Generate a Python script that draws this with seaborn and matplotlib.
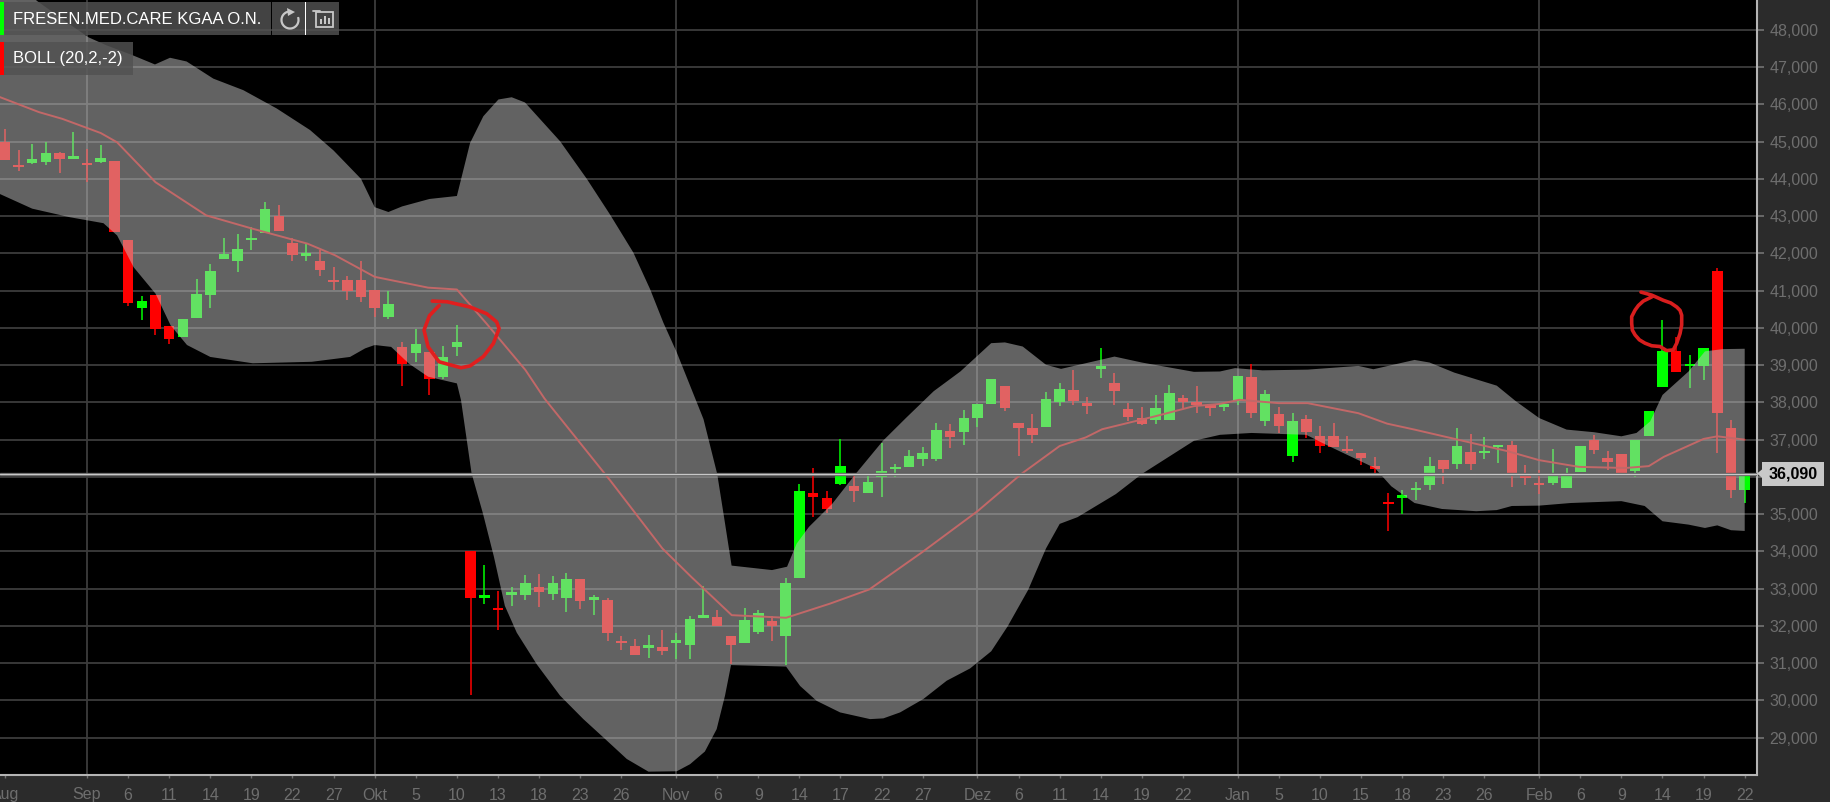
import numpy as np
import seaborn as sns
import matplotlib
matplotlib.use("Agg")
import matplotlib.pyplot as plt
from matplotlib.patches import Arc, Polygon, Rectangle

# Kerzen, von Ende Aug bis 22 Feb
first_day = -6
opens = [44.98, 44.38, 44.42, 44.45, 44.70, 44.54, 44.40, 44.46, 44.47, 42.37,
         40.54, 40.88, 40.04, 39.76, 40.27, 40.88, 41.85, 41.79, 42.35, 42.54,
         43.01, 42.29, 41.94, 41.79, 41.28, 41.29, 41.29, 41.01, 40.29, 39.49,
         39.33, 39.36, 38.69, 39.49, 34.00, 32.75, 32.49, 32.82, 32.82, 33.04,
         32.85, 32.76, 33.26, 32.70, 32.70, 31.57, 31.46, 31.41, 31.44, 31.54,
         31.50, 32.22, 32.23, 31.74, 31.54, 31.83, 32.14, 31.74, 33.30, 35.56,
         35.44, 35.81, 35.75, 35.56, 36.00, 36.20, 36.27, 36.47, 36.49, 37.23,
         37.20, 37.57, 37.96, 38.43, 37.44, 37.32, 37.34, 38.02, 38.33, 37.94,
         38.90, 38.52, 37.83, 37.59, 37.54, 37.54, 38.12, 37.98, 37.93, 37.87,
         38.05, 38.68, 37.51, 37.70, 36.57, 37.56, 37.11, 37.09, 36.73, 36.63,
         36.27, 35.30, 35.44, 35.64, 35.77, 36.45, 36.36, 36.66, 36.63, 36.80,
         36.87, 36.02, 35.80, 35.84, 35.70, 36.13, 37.00, 36.50, 36.61, 36.15,
         37.09, 38.41, 39.38, 38.97, 38.99, 41.54, 37.30, 35.64]
highs = [45.34, 44.78, 44.94, 44.98, 44.71, 45.25, 44.80, 44.91, 44.47, 42.37,
         40.85, 40.88, 40.04, 40.25, 41.32, 41.72, 42.41, 42.53, 42.72, 43.38,
         43.29, 42.42, 42.26, 42.10, 41.63, 41.38, 41.79, 41.01, 40.99, 39.63,
         39.96, 39.36, 39.51, 40.07, 34.00, 33.64, 32.95, 33.04, 33.36, 33.40,
         33.33, 33.41, 33.26, 32.84, 32.75, 31.74, 31.65, 31.75, 31.90, 31.81,
         32.27, 33.06, 32.43, 31.74, 32.48, 32.43, 32.26, 33.28, 35.81, 36.23,
         35.63, 37.03, 36.06, 36.06, 36.90, 36.36, 36.72, 36.81, 37.45, 37.43,
         37.80, 37.96, 38.64, 38.43, 37.44, 37.68, 38.28, 38.52, 38.88, 38.14,
         39.47, 38.79, 37.99, 37.87, 38.19, 38.48, 38.19, 38.43, 37.96, 37.96,
         38.70, 39.04, 38.32, 37.88, 37.72, 37.67, 37.36, 37.46, 37.11, 36.63,
         36.54, 35.57, 35.66, 35.86, 36.54, 36.45, 37.31, 37.15, 37.07, 36.84,
         36.96, 36.33, 36.18, 36.75, 36.24, 36.82, 37.13, 36.69, 36.61, 37.00,
         37.76, 40.20, 39.75, 39.28, 39.45, 41.60, 37.54, 36.09]
lows = [44.50, 44.22, 44.40, 44.38, 44.15, 44.52, 43.91, 44.42, 42.57, 40.58,
        40.20, 39.82, 39.56, 39.76, 40.27, 40.54, 41.85, 41.50, 42.10, 42.54,
        42.59, 41.79, 41.79, 41.38, 41.03, 40.74, 40.70, 40.28, 40.25, 38.45,
        39.09, 38.20, 38.62, 39.24, 30.16, 32.60, 31.90, 32.54, 32.70, 32.51,
        32.70, 32.38, 32.46, 32.30, 31.59, 31.35, 31.21, 31.14, 31.21, 31.10,
        31.10, 32.22, 32.01, 30.99, 31.54, 31.79, 31.59, 30.94, 33.30, 34.92,
        35.03, 35.77, 35.34, 35.56, 35.46, 35.99, 36.27, 36.30, 36.42, 36.77,
        36.86, 37.34, 37.96, 37.77, 36.57, 36.90, 37.34, 37.90, 37.94, 37.70,
        38.66, 37.94, 37.50, 37.39, 37.41, 37.54, 37.84, 37.71, 37.63, 37.78,
        37.94, 37.58, 37.38, 37.18, 36.40, 37.05, 36.63, 36.80, 36.63, 36.33,
        36.04, 34.56, 35.01, 35.38, 35.64, 35.81, 36.22, 36.18, 36.49, 36.38,
        35.73, 35.77, 35.53, 35.77, 35.70, 36.13, 36.62, 36.18, 36.04, 36.00,
        37.09, 38.41, 38.81, 38.38, 38.59, 36.63, 35.44, 35.29]
closes = [44.51, 44.31, 44.54, 44.70, 44.53, 44.58, 44.36, 44.55, 42.57, 40.67,
          40.71, 39.98, 39.69, 40.25, 40.90, 41.54, 41.97, 42.12, 42.38, 43.18,
          42.59, 41.95, 41.97, 41.56, 41.22, 40.99, 40.83, 40.53, 40.65, 39.03,
          39.56, 38.64, 39.22, 39.63, 32.74, 32.84, 32.42, 32.92, 33.16, 32.92,
          33.14, 33.25, 32.68, 32.73, 31.81, 31.53, 31.21, 31.50, 31.33, 31.59,
          32.19, 32.29, 32.01, 31.50, 32.16, 32.34, 31.99, 33.16, 35.63, 35.46,
          35.14, 36.28, 35.62, 35.86, 36.17, 36.24, 36.56, 36.64, 37.27, 37.06,
          37.59, 37.96, 38.64, 37.84, 37.30, 37.12, 38.10, 38.36, 38.05, 37.91,
          38.98, 38.30, 37.62, 37.43, 37.86, 38.26, 38.02, 37.93, 37.84, 37.96,
          38.70, 37.71, 38.23, 37.38, 37.49, 37.20, 36.82, 36.80, 36.69, 36.51,
          36.22, 35.27, 35.50, 35.71, 36.30, 36.20, 36.84, 36.34, 36.68, 36.84,
          36.04, 35.98, 35.77, 36.04, 36.04, 36.82, 36.73, 36.39, 36.04, 37.00,
          37.76, 39.38, 38.81, 38.99, 39.45, 37.71, 35.64, 36.09]

# Bollinger-Band
upper_x = [-6.4, -3.67, -1.12, 0.1, 1.44, 3.38, 4.96, 6.06, 7.27, 9.22, 11.41, 13.84, 16.28, 18,
           20, 21, 22, 23, 25, 27, 27.96, 28.93, 30.03, 31, 31.97, 34.53, 36.48, 38.18, 39.88, 41.1,
           42.07, 43.05, 44.02, 45, 46, 46.5, 47.05, 50, 51.1,
           51.8, 52.7, 54.4, 56.1, 58.1, 59.8, 61.8, 63.75, 66, 67, 68.3, 70, 71.1, 73, 75,
           77, 80.8, 82.7, 83.8, 85.8, 89.1, 92.8, 93.9, 96.9, 98, 99.8, 102.9, 104.3, 106,
           108, 110, 112, 113.1, 114.1, 115, 116.9, 118.1, 119.4, 121]
upper = [49.9, 48.78, 48.11, 47.80, 47.58, 47.31, 47.07, 47.25, 47.15, 46.69, 46.38, 45.89, 45.31,
         44.76, 44.00, 43.24, 43.11, 43.26, 43.46, 43.54, 44.96, 45.68, 46.13, 46.19, 46.05, 45.01,
         44.00, 43.04, 42.02, 41.04, 40.14, 39.34, 38.45, 37.55, 36.08, 34.92, 33.62, 33.50, 33.59,
         34.21, 34.66, 35.28, 36.08, 36.97, 37.59, 38.30, 38.83, 39.59, 39.61, 39.50, 39.01,
         38.90, 39.06, 39.23, 39.07, 38.82, 38.83, 38.92, 38.86, 38.88, 38.98, 38.89, 39.14,
         39.07, 38.80, 38.45, 38.03, 37.58, 37.27, 37.20, 37.09, 37.18, 37.49, 38.20, 38.83,
         39.37, 39.43, 39.44]
lower_x = [-6.4, -4, -1.25, 1.2, 2.2, 3.4, 5, 6.1, 7.3, 9, 12.1, 16.4, 19.2, 20.3, 21, 22.2,
           23.5, 24.9, 27, 27.3, 28.07, 28.9, 29.7, 30.5, 31.37, 32.83, 34.53, 36.23, 37.69, 39.4,
           40.98, 43.05, 44.02, 45.1, 45.96, 46.57, 47.01, 51.03, 52.05, 53.26, 54.97, 57.16, 58.13,
           59.35, 61.05, 62.75, 64.46, 66, 67.2,
           68.7, 70, 71, 72.3, 75.1, 77, 80.8, 82.7, 85, 89, 90.4, 94, 95.2, 96.9, 98.9, 101.4,
           102.9, 104, 106, 108.3, 112, 113.7, 115, 116.9, 118.1, 119, 120, 121]
lower = [43.60, 43.20, 42.97, 42.81, 42.48, 41.63, 40.92, 40.07, 39.54, 39.22, 39.05, 39.09,
         39.22, 39.45, 39.54, 39.49, 39.04, 38.69, 38.51, 38.06, 36.10, 35.02, 33.86, 32.54,
         31.82, 30.97, 30.13, 29.50, 29.01, 28.43, 28.09, 28.10, 28.29, 28.63, 29.23, 30.13,
         30.95, 30.91, 30.39, 29.99, 29.68, 29.50, 29.52, 29.68, 30.04, 30.53, 30.86,
         31.32, 31.99, 32.97, 34.08, 34.74,
         34.92, 35.54, 36.08, 36.97, 37.13, 37.18, 37.13, 36.87, 36.24, 35.75, 35.30, 35.14,
         35.08, 35.11, 35.22, 35.23, 35.30, 35.35, 35.22, 34.81, 34.72, 34.63, 34.70, 34.57,
         34.55]
mid_x = [-6.4, -3.5, -1.8, 1, 2.2, 5, 8.7, 12.1, 16.1, 18.1, 21, 24.9, 27, 29.15, 32, 33.4,
         38.2, 42, 44.1, 47.06, 51.03, 54.24, 57.1, 61, 65, 68.2, 71, 72.9, 74.1, 78, 80.8, 82.7,
         84.1, 87, 89.1, 92.8, 94.9, 96.9, 100.3, 103.7, 106, 108.9, 112.3, 114, 115.1, 118,
         119, 121]
mid = [46.20, 45.79, 45.61, 45.23, 44.98, 43.91, 43.02, 42.66, 42.26, 41.95, 41.37, 41.08,
       41.03, 40.12, 38.87, 38.10, 35.90, 34.08, 33.32, 32.29, 32.22, 32.60, 32.98, 33.99,
       35.08, 36.08, 36.83, 37.06, 37.28, 37.63, 37.90, 37.96, 38.07, 37.98, 37.98, 37.71,
       37.43, 37.27, 36.98, 36.69, 36.45, 36.27, 36.24, 36.29, 36.54, 37.02, 37.09, 37.00]

# Achsen
x_ticks = [-6, 0, 3, 6, 9, 12, 15, 18, 21, 24, 27, 30, 33, 36, 39, 43, 46, 49, 52, 55, 58, 61,
           65, 68, 71, 74, 77, 80, 84, 87, 90, 93, 96, 99, 102, 106, 109, 112, 115, 118, 121]
x_labels = ["Aug", "Sep", "6", "11", "14", "19", "22", "27", "Okt", "5", "10", "13", "18", "23",
            "26", "Nov", "6", "9", "14", "17", "22", "27", "Dez", "6", "11", "14", "19", "22",
            "Jan", "5", "10", "15", "18", "23", "26", "Feb", "6", "9", "14", "19", "22"]
month_ticks = [0, 21, 43, 65, 84, 106]
y_ticks = list(range(29, 49))
last_price = 36.09

# rote Handkreise
circle1_x = [25.2, 26.3, 27.96, 29.18, 29.9, 30.08, 29.66, 28.93, 27.96, 27.3, 25.7, 24.9, 24.6, 25.0, 25.7]
circle1_y = [40.72, 40.70, 40.56, 40.38, 40.16, 39.98, 39.58, 39.23, 38.98, 38.93, 39.09, 39.49, 39.94, 40.33, 40.60]
circle2_x = [113.43, 114.21, 115.06, 115.6, 116.04, 116.28, 116.4, 116.4, 116.28, 116.04, 115.79, 115.3,
             114.82, 114.21, 113.72, 113.31, 113.0, 112.8, 112.75, 112.75, 113.0, 113.24, 113.6, 114.21]
circle2_y = [40.96, 40.88, 40.74, 40.67, 40.56, 40.47, 40.34, 40.08, 39.85, 39.59, 39.41, 39.39,
             39.50, 39.52, 39.59, 39.68, 39.81, 39.94, 40.12, 40.30, 40.48, 40.60, 40.72, 40.83]

FONT = "Liberation Sans"
sns.set_theme(style="dark", rc={"axes.facecolor": "black", "figure.facecolor": "#2b2b2b"})
plt.rcParams["font.family"] = [FONT, "DejaVu Sans"]

W, H = 1831, 802
YMIN, YMAX = 28.0, 48.80
fig = plt.figure(figsize=(W / 100, H / 100), dpi=100)
ax = fig.add_axes([0, (H - 775) / H, 1757 / W, 775 / H])

days = np.arange(first_day, first_day + len(opens))
o, h, l, c = map(np.array, (opens, highs, lows, closes))
colors = np.where(c >= o, "#00ff00", "#ff0000")

ax.hlines(y_ticks, -10, 130, color="#3c3c3c", lw=1.3, zorder=1)
ax.vlines(month_ticks, 20, 50, color="#3c3c3c", lw=1.3, zorder=1)

ax.vlines(days, l, h, color=colors, lw=1.1, zorder=2)
ax.bar(days, np.maximum(np.abs(c - o), 0.07), bottom=np.minimum(o, c), width=0.76,
       color=colors, linewidth=0, zorder=2)

sns.lineplot(x=mid_x, y=mid, color="#c00c0c", lw=1.4, sort=False, ax=ax, zorder=3)

band = list(zip(upper_x, upper)) + list(zip(lower_x, lower))[::-1]
ax.add_patch(Polygon(band, closed=True, facecolor="#c4c4c4", edgecolor="none", alpha=0.5, zorder=4))

ax.axhline(last_price, color="#5c5c5c", lw=2.4, zorder=5)
ax.axhline(last_price, color="#c8c8c8", lw=1.0, zorder=6)

ax.plot(circle1_x, circle1_y, color="#e01e1e", lw=2.6, zorder=7, solid_joinstyle="round", solid_capstyle="round")
ax.plot(circle2_x, circle2_y, color="#d81e1e", lw=2.6, zorder=7, solid_joinstyle="round", solid_capstyle="round")

ax.set_xlim(-87 / 13.7, (1757 - 87) / 13.7)
ax.set_ylim(YMIN, YMAX)
ax.set_xticks(x_ticks)
ax.set_xticklabels(x_labels)
ax.set_yticks(y_ticks)
# 36,000 liegt hinter dem Preisschild
ax.set_yticklabels(["" if v == 36 else f"{v},000" for v in y_ticks], ha="left")
ax.yaxis.tick_right()
ax.tick_params(axis="y", colors="#6e6e6e", labelsize=11.5, length=5, width=1.3, pad=4, right=True)
ax.tick_params(axis="x", colors="#6e6e6e", labelsize=11.5, length=2, width=1, pad=7, bottom=True)
ax.grid(False)
for side in ("top", "left"):
    ax.spines[side].set_visible(False)
for side in ("right", "bottom"):
    ax.spines[side].set_color("#b4b4b4")
    ax.spines[side].set_linewidth(1.5)

# Kopfzeile und Preisschild, in Pixeln
ov = fig.add_axes([0, 0, 1, 1], facecolor="none")
ov.set_xlim(0, W)
ov.set_ylim(H, 0)
ov.axis("off")
box = "#525252"
ov.add_patch(Rectangle((0, 2), 271, 33, color=box, alpha=0.83, lw=0))
ov.add_patch(Rectangle((272, 2), 33, 33, color=box, alpha=0.83, lw=0))
ov.add_patch(Rectangle((306, 2), 33, 33, color=box, alpha=0.83, lw=0))
ov.add_patch(Rectangle((0, 2), 4, 33, color="#00ff00", lw=0))
ov.add_patch(Rectangle((305, 2), 1, 33, color="white", lw=0))
ov.text(13, 19, "FRESEN.MED.CARE KGAA O.N.", color="white", fontsize=11.95, va="center")
ov.add_patch(Rectangle((0, 42), 133, 33, color=box, alpha=0.83, lw=0))
ov.add_patch(Rectangle((0, 42), 4, 33, color="#ff0000", lw=0))
ov.text(13, 59, "BOLL (20,2,-2)", color="white", fontsize=11.95, va="center")

# Symbole
ov.add_patch(Arc((290, 20), 17, 17, theta1=-20, theta2=270, color="#c8c8c8", lw=1.6))
ov.add_patch(Polygon([(287, 8), (295, 12), (288, 16)], closed=True, color="#c8c8c8", lw=0))
ov.add_patch(Rectangle((316, 12), 17, 15, fill=False, ec="#c8c8c8", lw=1.3))
ov.plot([313, 320], [11, 11], color="#c8c8c8", lw=1.3)
for bx, bh in [(320, 5), (324, 8), (328, 6)]:
    ov.add_patch(Rectangle((bx, 24 - bh), 2, bh, color="#c8c8c8", lw=0))

price_y = 775 - (last_price - YMIN) * 775 / (YMAX - YMIN)
ov.add_patch(Polygon([(1757, price_y), (1763, price_y - 5), (1763, price_y + 5)], closed=True,
                     color="#c8c8c8", lw=0))
ov.add_patch(Rectangle((1762, price_y - 12), 62, 24, color="#c8c8c8", lw=0))
ov.text(1793, price_y, f"{last_price:.3f}".replace(".", ","), color="black", fontsize=11.5,
        fontweight="bold", ha="center", va="center")

fig.savefig("out.png", dpi=100, facecolor=fig.get_facecolor())
